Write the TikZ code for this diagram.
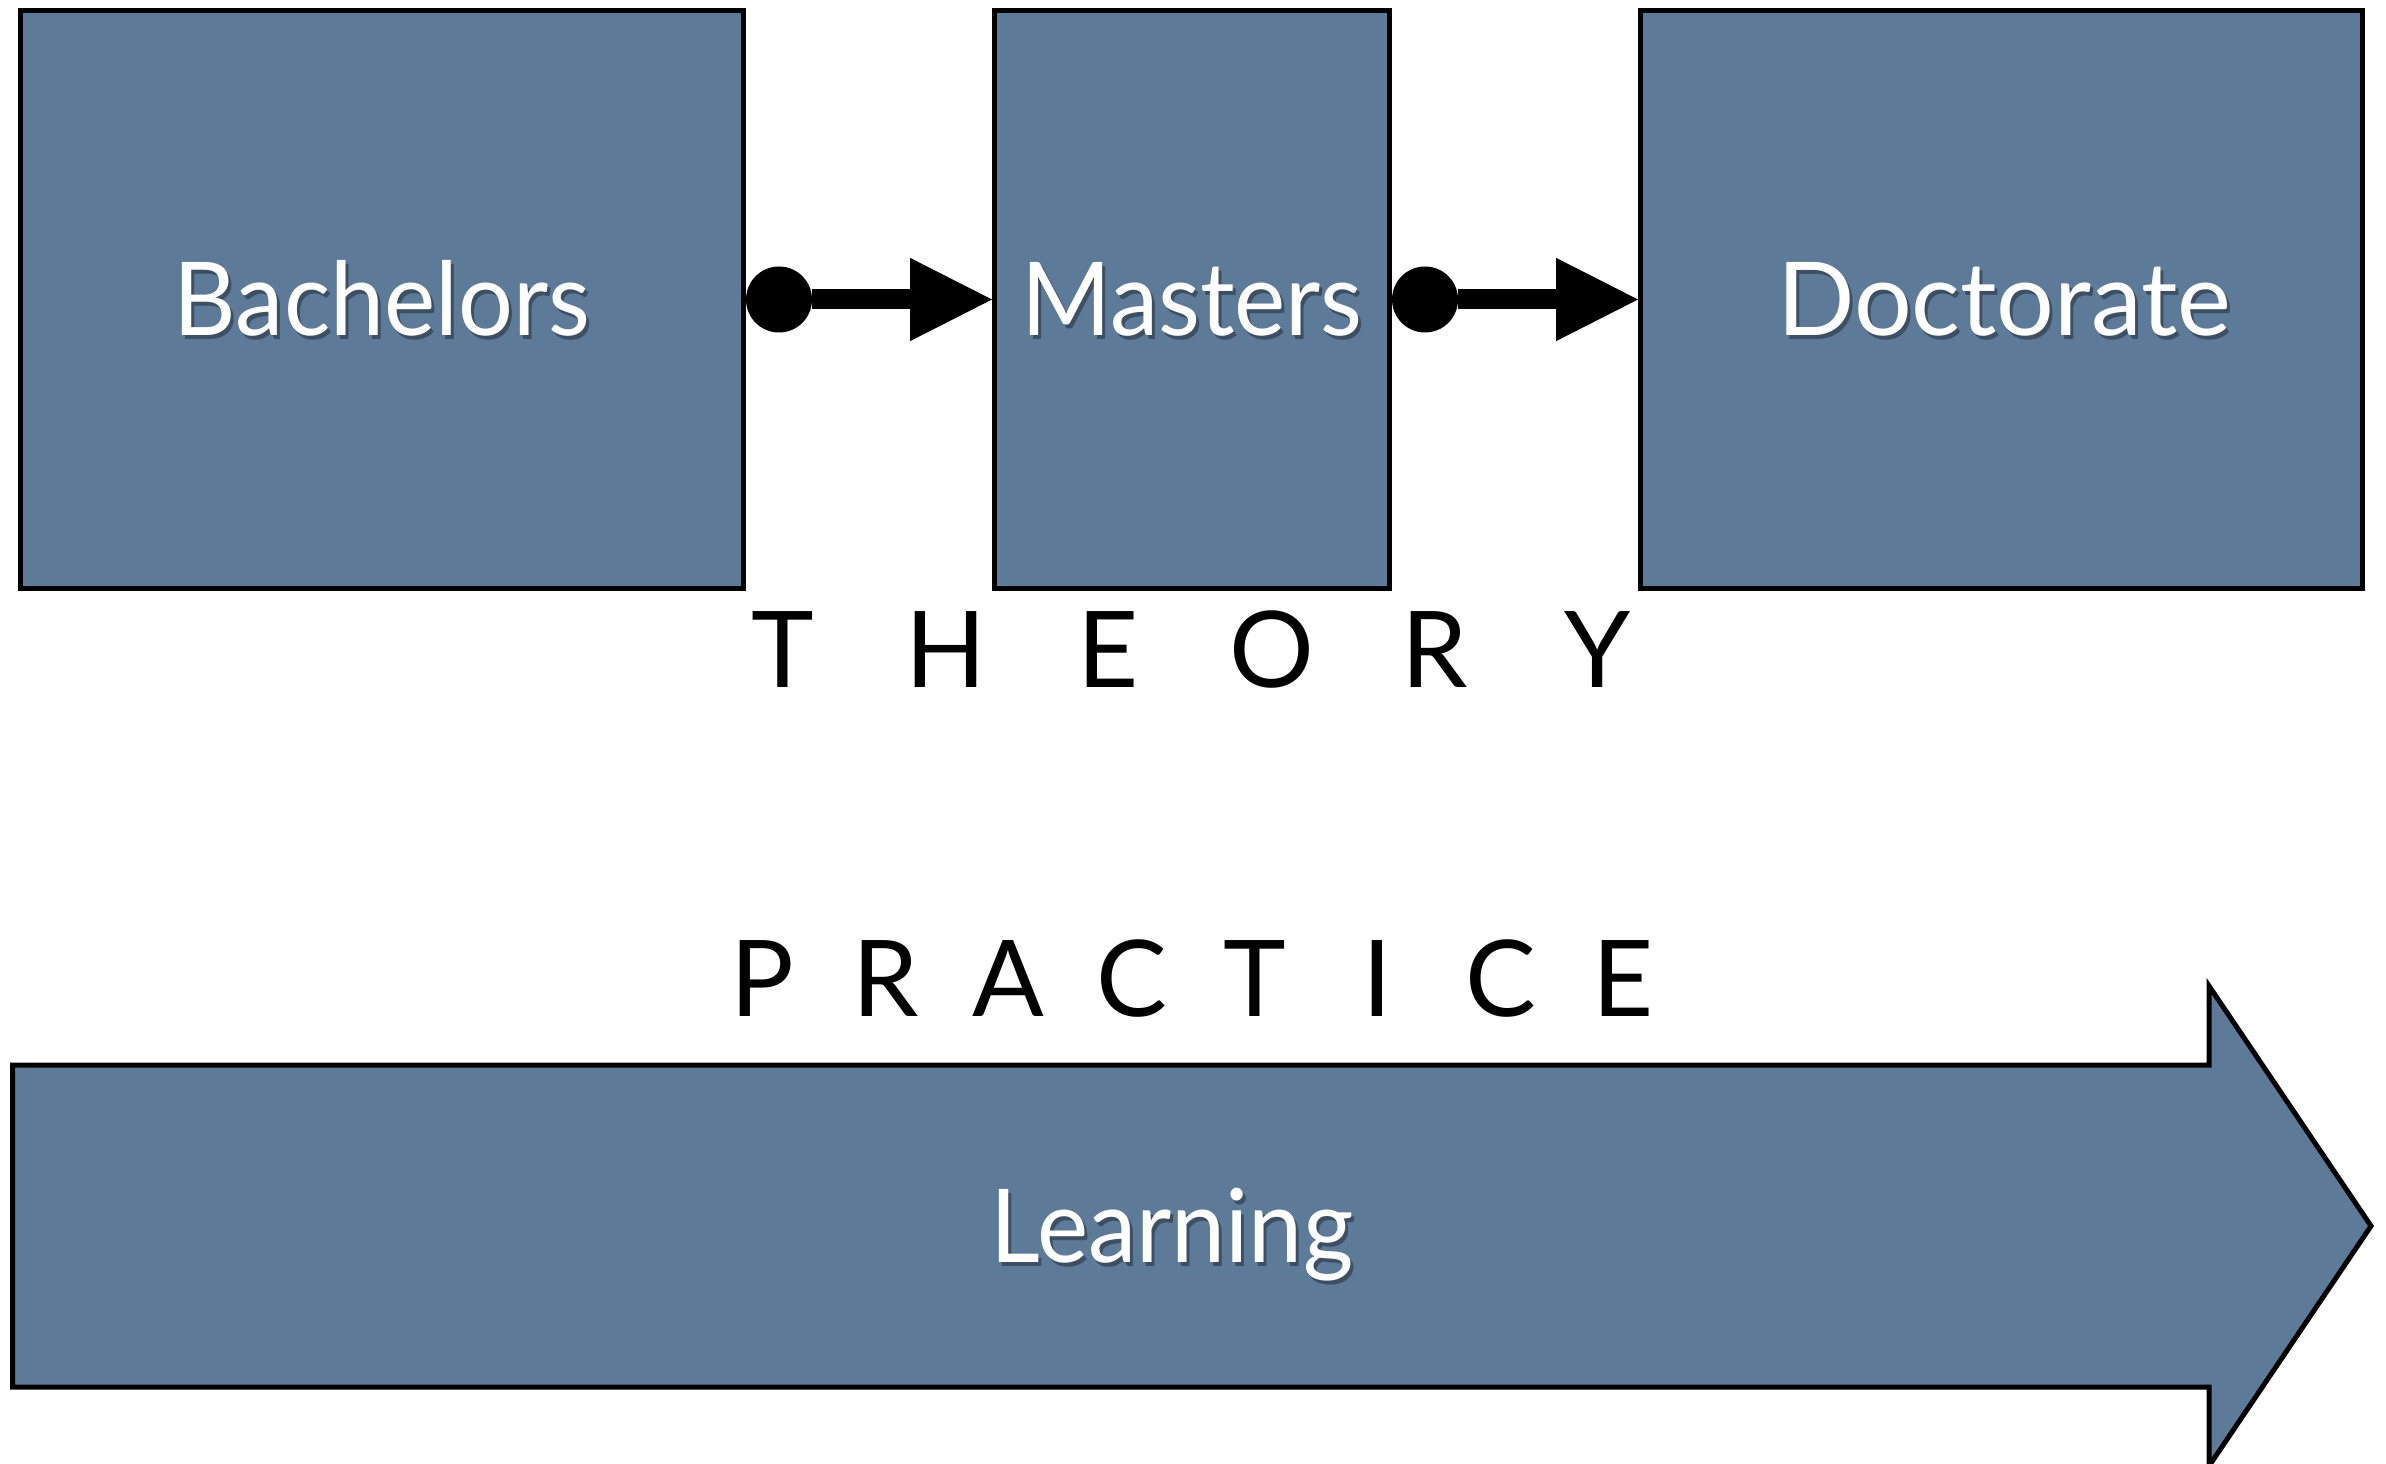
\documentclass[tikz,border=0pt]{standalone}
\usepackage{fontspec}
\setmainfont{Lato}
\usetikzlibrary{arrows.meta}
\definecolor{slate}{RGB}{94,122,153}
\newcommand{\lblfont}{\fontsize{30.6}{36}\selectfont}
\newcommand{\capfont}{\fontsize{31.8}{38}\selectfont}
\newcommand{\tl}[1]{\makebox[48.9pt]{#1}}
\newcommand{\pl}[1]{\makebox[36.9pt]{#1}}
\newcommand{\nar}[1]{\scalebox{0.95}[1]{#1}}
\begin{document}
\begin{tikzpicture}[x=0.3pt,y=-0.3pt,
  stage/.style={draw=black, line width=1.5pt, fill=slate, inner sep=0pt},
  lbl/.style={text=white, font=\lblfont, anchor=base, inner sep=0pt},
  shd/.style={text=black, opacity=0.35, font=\lblfont, anchor=base, inner sep=0pt},
  spaced/.style={text=black, font=\capfont, anchor=base, inner sep=0pt},
  link/.style={line width=6pt, {Circle[length=19.8pt,line width=0pt]}-{Triangle[length=24.6pt,width=25pt,line width=0pt]}}
]
\useasboundingbox (0,0) rectangle (2386,1464);
\fill[white] (0,0) rectangle (2386,1464);

% stage boxes
\node[stage, minimum width=216.9pt, minimum height=173.4pt] (bach) at (382,299.5) {};
\node[stage, minimum width=118.5pt, minimum height=173.4pt] (mast) at (1192,299.5) {};
\node[stage, minimum width=216.6pt, minimum height=173.4pt] (doct) at (2001.5,299.5) {};

% labels with soft shadow
\node[shd] (bachs) at (385,340) {\nar{Bachelors}};
\node[lbl] (bachl) at (382,336) {\nar{Bachelors}};
\node[shd] (masts) at (1195,340) {\nar{Masters}};
\node[lbl] (mastl) at (1192,336) {\nar{Masters}};
\node[shd] (docts) at (2007,340) {Doctorate};
\node[lbl] (doctl) at (2004,336) {Doctorate};

% connectors
\draw[link] (bach.east) -- (mast.west);
\draw[link] (mast.east) -- (doct.west);

% theory / practice
\node[spaced] (theory) at (1190,688) {\tl{T}\tl{H}\tl{E}\tl{O}\tl{R}\tl{Y}};
\node[spaced] (practice) at (1193,1016) {\pl{P}\pl{R}\pl{A}\pl{C}\pl{T}\pl{I}\pl{C}\pl{E}};

% learning arrow
\draw[draw=black, line width=1.5pt, fill=slate, line join=miter]
  (12.5,1065) -- (2209,1065) -- (2209,986) -- (2371,1226) -- (2209,1466)
  -- (2209,1387) -- (12.5,1387) -- cycle;
\node[shd] (learns) at (1175,1266) {\nar{Learning}};
\node[lbl] (learn) at (1172,1262) {\nar{Learning}};
\end{tikzpicture}
\end{document}
